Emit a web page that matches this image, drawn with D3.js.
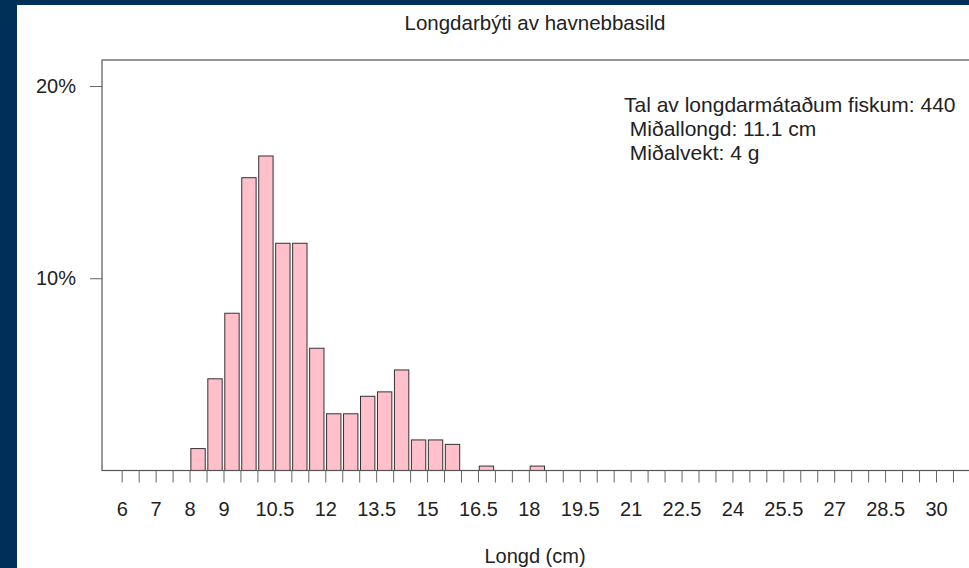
<!DOCTYPE html>
<html lang="fo">
<head>
    <meta charset="UTF-8">
    <title>Longdarbýti av havnebbasild</title>
    <script src="https://d3js.org/d3.v7.min.js"></script>
    <style>
        html, body {
            margin: 0;
            padding: 0;
            background: #003057;
            overflow: hidden;
        }

        svg text {
            font-family: "Liberation Sans", Arial, sans-serif;
            fill: #222;
        }

        .tick line {
            stroke: #666;
        }

        .info text {
            white-space: pre;
        }
    </style>
</head>
<body>
<svg width="969" height="568"></svg>
<script>
    // longdarbólkar (cm, vinstra mark) og lutfall av fiskum (%)
    const binStarts = [8, 8.5, 9, 9.5, 10, 10.5, 11, 11.5, 12, 12.5, 13, 13.5, 14, 14.5, 15, 15.5, 16.5, 18];
    const binPercent = [1.14, 4.77, 8.18, 15.23, 16.36, 11.82, 11.82, 6.36, 2.95, 2.95, 3.86, 4.09, 5.23, 1.59, 1.59, 1.36, 0.23, 0.23];
    const binWidth = 0.5;

    const xTickLabels = [6, 7, 8, 9, 10.5, 12, 13.5, 15, 16.5, 18, 19.5, 21, 22.5, 24, 25.5, 27, 28.5, 30];
    const yTickValues = [10, 20];

    const infoLines = [
        "Tal av longdarmátaðum fiskum: 440",
        " Miðallongd: 11.1 cm",
        " Miðalvekt: 4 g"
    ];

    const svg = d3.select("svg");

    // hvítur bakgrunnur
    svg.append("rect")
        .attr("x", 17).attr("y", 5)
        .attr("width", 980).attr("height", 600)
        .attr("fill", "#fff");

    const x = d3.scaleLinear().domain([6, 30]).range([121.7, 936]);
    const y = d3.scaleLinear().domain([0, 20]).range([470.5, 86]);

    const boxLeft = x(5.42), boxTop = 60, boxBottom = y(0);

    // søjlur
    svg.append("g")
        .selectAll("rect")
        .data(binStarts.map((s, i) => ({start: s, pct: binPercent[i]})))
        .enter().append("rect")
        .attr("x", d => x(d.start) + 1.3)
        .attr("y", d => y(d.pct))
        .attr("width", d => x(d.start + binWidth) - x(d.start) - 2.6)
        .attr("height", d => y(0) - y(d.pct))
        .attr("fill", "#ffc0cb")
        .attr("stroke", "#333")
        .attr("stroke-width", 1);

    // kassi
    svg.append("rect")
        .attr("x", boxLeft).attr("y", boxTop)
        .attr("width", 990 - boxLeft).attr("height", boxBottom - boxTop)
        .attr("fill", "none")
        .attr("stroke", "#555")
        .attr("stroke-width", 1.2);

    // x ás
    const halfSteps = d3.range(6, 31.01, 0.5);
    const xAxis = d3.axisBottom(x)
        .tickValues(halfSteps)
        .tickSize(12)
        .tickPadding(19)
        .tickFormat(d => xTickLabels.includes(d) ? String(d) : "");

    svg.append("g")
        .attr("transform", `translate(0,${boxBottom})`)
        .call(xAxis)
        .call(g => g.select(".domain").remove())
        .call(g => g.selectAll("text").attr("font-size", 20).attr("font-family", null));

    // y ás
    const yAxis = d3.axisLeft(y)
        .tickValues(yTickValues)
        .tickSize(12)
        .tickPadding(14)
        .tickFormat(d => d + "%");

    svg.append("g")
        .attr("transform", `translate(${boxLeft},0)`)
        .call(yAxis)
        .call(g => g.select(".domain").remove())
        .call(g => g.selectAll("text").attr("font-size", 20).attr("font-family", null));

    // heiti
    svg.append("text")
        .attr("x", 535).attr("y", 29.5)
        .attr("text-anchor", "middle")
        .attr("font-size", 20.5)
        .text("Longdarbýti av havnebbasild");

    svg.append("text")
        .attr("x", 535).attr("y", 563)
        .attr("text-anchor", "middle")
        .attr("font-size", 20)
        .text("Longd (cm)");

    // upplýsingar
    svg.append("g")
        .attr("class", "info")
        .selectAll("text")
        .data(infoLines)
        .enter().append("text")
        .attr("x", 624)
        .attr("y", (d, i) => 111.5 + i * 24.3)
        .attr("font-size", 21)
        .text(d => d);
</script>
</body>
</html>
